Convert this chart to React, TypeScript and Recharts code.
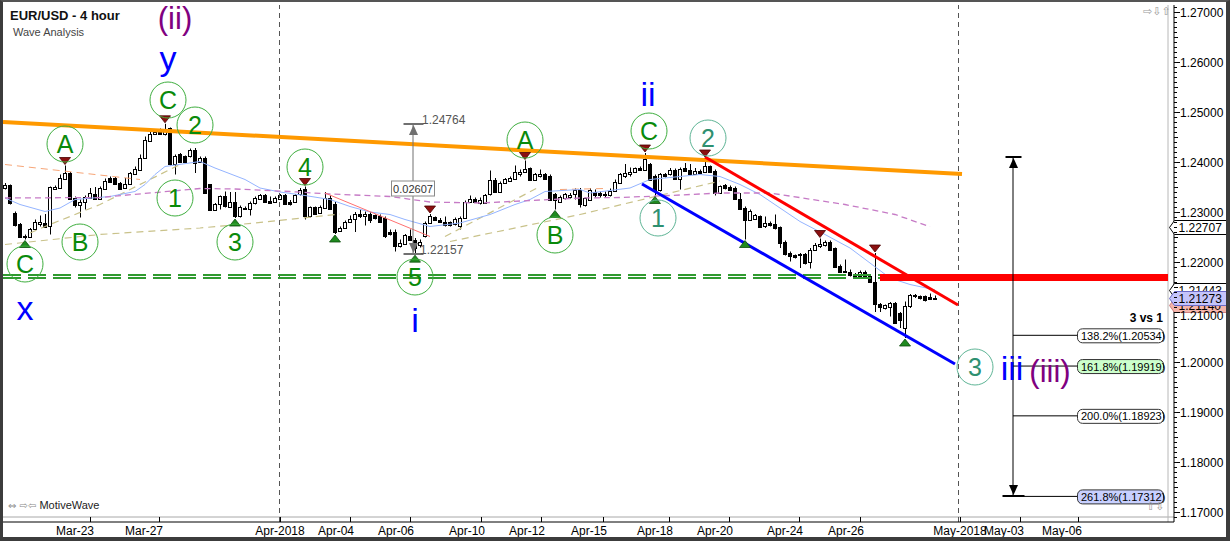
import React from 'react';
import { ComposedChart, Bar, Line, XAxis, YAxis, ReferenceLine, ReferenceDot } from 'recharts';

// ---------- candle data (EUR/USD 4h), index = candle slot ----------
const opens = [1.2348,1.2353,1.2299,1.2275,1.2249,1.2249,1.2267,1.2276,1.2278,1.2271,
1.2346,1.2348,1.2367,1.2378,1.2328,1.2313,1.2321,1.2328,1.2337,1.2327,
1.2347,1.2368,1.2368,1.2358,1.2348,1.2356,1.2377,1.2385,1.2408,1.2443,
1.2456,1.2461,1.2455,1.2468,1.2395,1.2415,1.2411,1.2411,1.2425,1.2401,
1.2408,1.2355,1.2305,1.2315,1.2331,1.2309,1.2321,1.2291,1.2308,1.2307,
1.2318,1.2327,1.2333,1.2323,1.2321,1.2327,1.2333,1.2321,1.2321,1.2335,
1.2347,1.2291,1.2309,1.2298,1.2308,1.2328,1.2316,1.2263,1.2268,1.2281,
1.2287,1.2296,1.2291,1.2295,1.2293,1.2291,1.2288,1.2261,1.2260,1.2231,
1.2236,1.2251,1.2245,1.2233,1.2251,1.2278,1.2289,1.2285,1.2281,1.2280,
1.2275,1.2271,1.2288,1.2320,1.2327,1.2318,1.2318,1.2335,1.2365,1.2341,
1.2358,1.2363,1.2367,1.2375,1.2380,1.2388,1.2365,1.2371,1.2375,1.2371,
1.2335,1.2320,1.2328,1.2329,1.2335,1.2345,1.2313,1.2325,1.2341,1.2338,
1.2336,1.2333,1.2343,1.2358,1.2371,1.2375,1.2380,1.2388,1.2385,1.2396,
1.2371,1.2345,1.2376,1.2375,1.2385,1.2367,1.2388,1.2385,1.2376,1.2383,
1.2381,1.2391,1.2383,1.2338,1.2353,1.2349,1.2348,1.2327,1.2308,1.2285,
1.2287,1.2291,1.2271,1.2278,1.2276,1.2269,1.2241,1.2218,1.2213,1.2213,
1.2215,1.2200,1.2225,1.2231,1.2233,1.2241,1.2228,1.2191,1.2183,1.2181,
1.2175,1.2171,1.2181,1.2171,1.2161,1.2116,1.2107,1.2109,1.2118,1.2098,
1.2068,1.2111,1.2131,1.2131,1.2131,1.2129,1.2126];

const highs = [1.2358,1.2355,1.2301,1.2278,1.2255,1.2268,1.2285,1.2293,1.2296,1.2351,
1.2353,1.2375,1.2393,1.2380,1.2331,1.2325,1.2333,1.2348,1.2350,1.2351,
1.2367,1.2371,1.2370,1.2360,1.2368,1.2380,1.2391,1.2415,1.2451,1.2463,
1.2465,1.2467,1.24764,1.2469,1.2415,1.2418,1.2413,1.2427,1.2428,1.2411,
1.2411,1.2356,1.2318,1.2333,1.2341,1.2340,1.2340,1.2313,1.2311,1.2321,
1.2331,1.2336,1.2336,1.2331,1.2331,1.2336,1.2336,1.2324,1.2336,1.2348,
1.2351,1.2311,1.2311,1.2313,1.2340,1.2333,1.2320,1.2271,1.2283,1.2293,
1.2300,1.2305,1.2301,1.2300,1.2295,1.2295,1.2291,1.2265,1.2265,1.2245,
1.2256,1.2265,1.2248,1.2245,1.2281,1.2296,1.2291,1.2288,1.2291,1.2281,
1.2289,1.2291,1.2323,1.2333,1.2329,1.2329,1.2336,1.2383,1.2368,1.2361,
1.2368,1.2371,1.2393,1.2385,1.2403,1.2389,1.2378,1.2385,1.2378,1.2375,
1.2338,1.2333,1.2338,1.2338,1.2347,1.2348,1.2329,1.2348,1.2345,1.2341,
1.2341,1.2347,1.2365,1.2378,1.2396,1.2389,1.2389,1.2391,1.2418,1.2398,
1.2375,1.2378,1.2378,1.2388,1.2387,1.2389,1.2398,1.2396,1.2388,1.2385,
1.2408,1.2393,1.2385,1.2353,1.2356,1.2353,1.2351,1.2338,1.2311,1.2305,
1.2296,1.2293,1.2291,1.2281,1.2295,1.2271,1.2243,1.2221,1.2215,1.2218,
1.2218,1.2228,1.2238,1.2247,1.2243,1.2243,1.2229,1.2195,1.2205,1.2185,
1.2178,1.2183,1.2183,1.2175,1.2218,1.2118,1.2115,1.2120,1.2120,1.2100,
1.2121,1.2136,1.2136,1.2133,1.2133,1.2137,1.2133];

const lows = [1.2345,1.2315,1.2271,1.2248,1.2245,1.2248,1.2265,1.2271,1.2268,1.2255,
1.2345,1.2347,1.2365,1.2325,1.2309,1.2289,1.2305,1.2327,1.2325,1.2325,
1.2345,1.2358,1.2355,1.2345,1.2347,1.2355,1.2376,1.2383,1.2407,1.2441,
1.2455,1.2455,1.2453,1.2393,1.2375,1.2400,1.2398,1.2409,1.2378,1.2398,
1.2336,1.2303,1.2303,1.2305,1.2309,1.2308,1.2288,1.2289,1.2305,1.2293,
1.2315,1.2325,1.2318,1.2318,1.2318,1.2325,1.2315,1.2313,1.2320,1.2333,
1.2285,1.2289,1.2295,1.2296,1.2307,1.2305,1.2256,1.2261,1.2267,1.2280,
1.2260,1.2288,1.2273,1.2278,1.2285,1.2278,1.2248,1.2253,1.2221,1.2229,
1.2235,1.2243,1.22157,1.2229,1.2249,1.2276,1.2283,1.2280,1.2271,1.2271,
1.2273,1.2265,1.2287,1.2318,1.2320,1.2315,1.2316,1.2333,1.2338,1.2340,
1.2356,1.2360,1.2365,1.2371,1.2378,1.2363,1.2363,1.2369,1.2365,1.2323,
1.2305,1.2318,1.2325,1.2327,1.2325,1.2309,1.2311,1.2323,1.2329,1.2329,
1.2328,1.2331,1.2341,1.2356,1.2368,1.2371,1.2378,1.2383,1.2383,1.2363,
1.2333,1.2341,1.2369,1.2373,1.2365,1.2345,1.2380,1.2373,1.2375,1.2376,
1.2380,1.2378,1.2333,1.2336,1.2345,1.2343,1.2325,1.2305,1.2245,1.2283,
1.2285,1.2268,1.2268,1.2271,1.2265,1.2228,1.2213,1.2201,1.2207,1.2188,
1.2195,1.2187,1.2223,1.2228,1.2231,1.2223,1.2188,1.2178,1.2178,1.2171,
1.2167,1.2168,1.2167,1.2158,1.2100,1.2100,1.2105,1.2091,1.2076,1.2068,
1.2048,1.2108,1.2128,1.2125,1.2121,1.2125,1.2125];

const closes = [1.2353,1.2318,1.2273,1.2249,1.2251,1.2267,1.2281,1.2281,1.2269,1.2350,
1.2350,1.2368,1.2378,1.2327,1.2313,1.2321,1.2329,1.2338,1.2327,1.2348,
1.2363,1.2360,1.2356,1.2347,1.2357,1.2378,1.2387,1.2409,1.2445,1.2456,
1.2461,1.2456,1.2463,1.2395,1.2411,1.2401,1.2400,1.2425,1.2398,1.2408,
1.2338,1.2305,1.2316,1.2331,1.2311,1.2321,1.2291,1.2309,1.2307,1.2318,
1.2328,1.2333,1.2321,1.2319,1.2328,1.2333,1.2316,1.2315,1.2333,1.2345,
1.2291,1.2309,1.2296,1.2309,1.2328,1.2307,1.2261,1.2268,1.2281,1.2287,
1.2296,1.2291,1.2296,1.2285,1.2288,1.2281,1.2251,1.2256,1.2231,1.2238,
1.2253,1.2245,1.2228,1.2241,1.2278,1.2291,1.2285,1.2281,1.2273,1.2273,
1.2287,1.2288,1.2320,1.2327,1.2321,1.2325,1.2333,1.2365,1.2341,1.2358,
1.2367,1.2368,1.2380,1.2380,1.2387,1.2365,1.2375,1.2376,1.2367,1.2325,
1.2325,1.2329,1.2336,1.2333,1.2345,1.2315,1.2328,1.2345,1.2333,1.2333,
1.2333,1.2343,1.2361,1.2375,1.2378,1.2381,1.2388,1.2385,1.2407,1.2365,
1.2345,1.2376,1.2371,1.2385,1.2367,1.2387,1.2383,1.2375,1.2383,1.2378,
1.2391,1.2381,1.2338,1.2351,1.2348,1.2345,1.2327,1.2307,1.2285,1.2303,
1.2293,1.2269,1.2278,1.2273,1.2268,1.2238,1.2216,1.2211,1.2209,1.2216,
1.2198,1.2225,1.2233,1.2236,1.2241,1.2225,1.2189,1.2180,1.2180,1.2173,
1.2169,1.2181,1.2169,1.2160,1.2115,1.2109,1.2113,1.2118,1.2078,1.2085,
1.2111,1.2133,1.2133,1.2128,1.2125,1.2127,1.21273];

// ---------- moving averages ([candle index, value]) ----------
const maPurple = [[0,1.2328],[19,1.2329],[39,1.2347],[46,1.2346],[57,1.2341],[65,1.2336],[77,1.2331],[85,1.2320],[95,1.2318],[115,1.2328],[123,1.2329],[133,1.2333],[143,1.2338],[153,1.2338],[168,1.2315],[178,1.2295],[185,1.22707]];
const maBlue = [[0,1.2328],[3,1.2315],[8,1.2301],[11,1.2308],[14,1.2325],[21,1.2331],[26,1.2341],[28,1.2355],[30,1.2375],[32,1.2391],[39,1.2401],[42,1.2388],[48,1.2365],[51,1.2348],[55,1.2340],[60,1.2333],[65,1.2325],[69,1.2311],[73,1.2300],[77,1.2295],[80,1.2285],[85,1.2271],[91,1.2278],[97,1.2295],[102,1.2315],[105,1.2325],[108,1.2341],[115,1.2345],[117,1.2338],[125,1.2348],[129,1.2365],[135,1.2371],[139,1.2375],[143,1.2371],[147,1.2355],[151,1.2335],[155,1.2308],[159,1.2281],[164,1.2255],[169,1.2228],[173,1.2198],[177,1.2168],[181,1.2155],[186,1.21443]];
const maTanA = [[0,1.2235],[19,1.2255],[39,1.2268],[50,1.2278],[67,1.2296]];
const maTanB = [[89,1.2241],[115,1.2295],[143,1.2362]];
const maTanC = [[5,1.2258],[9,1.2275],[19,1.2315],[29,1.2365],[35,1.2395]];
const maTanD = [[88,1.2251],[107,1.2351]];
const maSalmonA = [[0,1.2395],[27,1.2365]];
const maSalmonB = [[111,1.2345],[120,1.2347]];

// ---------- axes ----------
const xTickIdx = [17, 30.8, 55, 69, 81, 95.2, 107.2, 119.6, 132.8, 144.8, 158.8, 171, 191, 203, 214.6];
const xTickLabels = ['Mar-23','Mar-27','Apr-2018','Apr-04','Apr-06','Apr-10','Apr-12','Apr-15','Apr-18','Apr-20','Apr-24','Apr-26','May-2018','May-03','May-06'];
const yMajorTicks = [1.18, 1.19, 1.20, 1.21, 1.22, 1.23, 1.24, 1.25, 1.26, 1.27];
const monthLines = [54.9, 190.7];
const plotBorderBottom = 1.169;
const plotBorderRight = 232.6;

// ---------- trend lines ----------
const orangeLine = [[-0.4, 1.2480], [191.4, 1.2376]];
const redLine = [[140, 1.2410], [190.6, 1.2114]];
const blueLine = [[127.4, 1.2356], [190, 1.1996]];
const thinRedLine = [[64, 1.2338], [85, 1.2251]];
const greenLevels = [1.2174, 1.2168];
const greenRange = [-0.4, 175];
const redLevel = 1.2169;
const redLevelRange = [175, 232.6];

// ---------- wave labels ----------
const circleLabels = [
  { t: 'C', i: 4, p: 1.2196, deg: 'minor' },
  { t: 'A', i: 12, p: 1.2436, deg: 'minor' },
  { t: 'B', i: 15, p: 1.2240, deg: 'minor' },
  { t: 'C', i: 32.6, p: 1.2524, deg: 'minor' },
  { t: '2', i: 38, p: 1.2474, deg: 'minor' },
  { t: '1', i: 34, p: 1.2328, deg: 'minor' },
  { t: '3', i: 46, p: 1.2240, deg: 'minor' },
  { t: '4', i: 60, p: 1.2390, deg: 'minor' },
  { t: '5', i: 82, p: 1.2170, deg: 'minor' },
  { t: 'A', i: 104, p: 1.2444, deg: 'minor' },
  { t: 'B', i: 110, p: 1.2254, deg: 'minor' },
  { t: 'C', i: 128.8, p: 1.2462, deg: 'minor' },
  { t: '1', i: 130.6, p: 1.2288, deg: 'minute' },
  { t: '2', i: 140.6, p: 1.2448, deg: 'minute' },
  { t: '3', i: 194, p: 1.1990, deg: 'minute' },
];
const textLabels = [
  { t: '(ii)', i: 34, p: 1.2666, deg: 'intermediate' },
  { t: 'y', i: 32.6, p: 1.2584, deg: 'minor' },
  { t: 'x', i: 4, p: 1.2084, deg: 'minor' },
  { t: 'i', i: 82, p: 1.2060, deg: 'minor' },
  { t: 'ii', i: 128.6, p: 1.2512, deg: 'minor' },
  { t: 'iii', i: 201.4, p: 1.1964, deg: 'minor' },
  { t: '(iii)', i: 209, p: 1.1960, deg: 'intermediate' },
];
const highMarks = [12, 32, 60, 85, 104, 128, 140, 163, 174];
const lowMarks = [4, 46, 66, 82, 110, 130, 148, 180];

// ---------- fibonacci projection ----------
const fibX = 201.6;
const fibLabelX = 214.4;
const fibTop = 1.2410;
const fibLevels = [1.20534, 1.19919, 1.18923, 1.17312];
const fibTexts = ['138.2%(1.20534)', '161.8%(1.19919)', '200.0%(1.18923)', '261.8%(1.17312)'];
const fibTitle = '3 vs 1';
const fibTitlePos = { i: 231.6, p: 1.2080 };

// ---------- measure tool ----------
const measureX = 81.6;
const measureTop = 1.24764;
const measureBottom = 1.22157;
const measureText = '0.02607';
const measureBoxP = 1.2347;

// ---------- price tags on the right axis ----------
const priceTags = [
  { v: 1.22707, kind: 'plain' },
  { v: 1.21443, kind: 'plain' },
  { v: 1.2114, kind: 'red' },
  { v: 1.21273, kind: 'last' },
];
const tagX = 232.8;

// ---------- build table ----------
const table: any[] = opens.map((o, i) => ({
  i, open: o, high: highs[i], low: lows[i], close: closes[i], range: [lows[i], highs[i]],
}));
function addSeries(key: string, pts: number[][]) {
  pts.forEach(([idx, v]) => { table[idx][key] = v; });
}
addSeries('maPurple', maPurple);
addSeries('maBlue', maBlue);
addSeries('maTanA', maTanA);
addSeries('maTanB', maTanB);
addSeries('maTanC', maTanC);
addSeries('maTanD', maTanD);
addSeries('maSalmonA', maSalmonA);
addSeries('maSalmonB', maSalmonB);

const yAllTicks: number[] = [];
for (let k = 1169; k <= 1271; k++) yAllTicks.push(k / 1000);
const tagValues = priceTags.map((t) => t.v);

const FONT = '"Liberation Sans", Arial, Helvetica, sans-serif';

const Candle = (props: any) => {
  const { x, y, width, height, payload } = props;
  if (x == null || y == null || !payload) return null;
  const top = Math.min(y, y + height);
  const bot = Math.max(y, y + height);
  const { open, close, high, low } = payload;
  const span = high - low || 1e-9;
  const py = (v: number) => top + ((high - v) / span) * (bot - top);
  const cx = Math.round(x + width / 2);
  const up = close >= open;
  const bt = Math.round(py(Math.max(open, close)));
  const bb = Math.round(py(Math.min(open, close)));
  return (
    <g>
      <line x1={cx + 0.5} x2={cx + 0.5} y1={top} y2={bot} stroke="#000" strokeWidth={1} />
      <rect x={cx - 1.5} y={bt + 0.5} width={3} height={Math.max(bb - bt, 1)} fill={up ? '#fff' : '#000'} stroke="#000" strokeWidth={1} />
    </g>
  );
};

const XTick = (props: any) => {
  const { x, y, payload } = props;
  const idx = xTickIdx.indexOf(payload.value);
  const label = xTickLabels[idx] || '';
  const isMonth = label.indexOf('2018') >= 0;
  const xx = Math.round(x) + 0.5;
  return (
    <g>
      <line x1={xx} x2={xx} y1={y - 5} y2={y} stroke="#000" strokeWidth={1} />
      <text x={isMonth ? x : x + 4} y={y + 13} textAnchor={isMonth ? 'middle' : 'end'} fontSize={12} fontFamily={FONT} fill="#000">
        {label}
      </text>
    </g>
  );
};

const YTick = (props: any) => {
  const { x, y, payload } = props;
  const v = payload.value;
  const isMajor = Math.abs(v * 100 - Math.round(v * 100)) < 1e-6;
  const isHalf = Math.abs(v * 200 - Math.round(v * 200)) < 1e-6;
  const len = isMajor ? 6 : isHalf ? 4 : 3;
  const yy = Math.round(y) + 0.5;
  // a price tag covers this label in the reference (only its lower edge shows)
  const covered = tagValues.some((t) => Math.abs(t - v) < 0.0016);
  return (
    <g>
      <line x1={x} x2={x + len} y1={yy} y2={yy} stroke="#000" strokeWidth={1} />
      {isMajor ? (
        <text x={x + 6} y={y + (covered ? 8 : 4.5)} fontSize={12} fontFamily={FONT} fill="#000">{v.toFixed(5)}</text>
      ) : null}
    </g>
  );
};

const circleShape = (t: string, deg: string) => (p: any) => {
  const col = deg === 'minute' ? '#2e9070' : '#0a8a0a';
  const stroke = deg === 'minute' ? '#5fb596' : '#3fae3f';
  return (
    <g>
      <circle cx={p.cx} cy={p.cy} r={18} fill="none" stroke={stroke} strokeWidth={1} />
      <text x={p.cx} y={p.cy + 9} textAnchor="middle" fontSize={25} fontFamily={FONT} fill={col}>{t}</text>
    </g>
  );
};

const textShape = (t: string, deg: string) => (p: any) => (
  <text x={p.cx} y={p.cy} textAnchor="middle" fontSize={deg === 'intermediate' ? 31 : 34} fontFamily={FONT} fill={deg === 'intermediate' ? '#800080' : '#0000ff'}>{t}</text>
);

const downMarker = (p: any) => (
  <polygon points={`${p.cx - 5.5},${p.cy - 8} ${p.cx + 5.5},${p.cy - 8} ${p.cx},${p.cy - 1}`} fill="#8b1010" stroke="#4a0000" strokeWidth={0.8} />
);
const upMarker = (p: any) => (
  <polygon points={`${p.cx - 5.5},${p.cy + 8} ${p.cx + 5.5},${p.cy + 8} ${p.cx},${p.cy + 1}`} fill="#1f8a1f" stroke="#0b4d0b" strokeWidth={0.8} />
);

const fibFill = ['#ffffff', '#ccffcc', '#ffffff', '#c8d0ff'];
const fibBox = (t: string, k: number) => (p: any) => (
  <g>
    <rect x={p.cx + 0.5} y={p.cy - 6.5} width={86} height={14} rx={5} ry={5} fill={fibFill[k]} stroke="#333" strokeWidth={1} />
    <text x={p.cx + 4} y={p.cy + 4.5} fontSize={11} fontFamily={FONT} fill="#000">{t}</text>
  </g>
);

const capShape = (dir: 'up' | 'down', color: string, half: number) => (p: any) => {
  const cx = Math.round(p.cx) + 0.5;
  const cy = Math.round(p.cy);
  const tri = dir === 'up'
    ? `${cx - 4.5},${cy + 11} ${cx + 4.5},${cy + 11} ${cx},${cy + 1}`
    : `${cx - 4.5},${cy - 11} ${cx + 4.5},${cy - 11} ${cx},${cy - 1}`;
  return (
    <g>
      <line x1={cx - half} x2={cx + half} y1={cy} y2={cy} stroke={color} strokeWidth={2} />
      <polygon points={tri} fill={color} />
    </g>
  );
};

const measureBox = (p: any) => (
  <g>
    <rect x={p.cx - 21.5} y={p.cy - 7.5} width={43} height={15} fill="#fff" stroke="#8a8a8a" strokeWidth={1} />
    <text x={p.cx} y={p.cy + 4} textAnchor="middle" fontSize={11} fontFamily={FONT} fill="#333">{measureText}</text>
  </g>
);
const smallText = (t: string, dx: number, anchor: string, weight: string, color: string, size: number) => (p: any) => (
  <text x={p.cx + dx} y={p.cy} textAnchor={anchor as any} fontSize={size} fontWeight={weight} fontFamily={FONT} fill={color}>{t}</text>
);

const tagShape = (v: number, kind: string) => (p: any) => {
  const cx = Math.round(p.cx) + 0.5;
  const cy = Math.round(p.cy) + 0.5;
  const fill = kind === 'last' ? '#c4c4fb' : kind === 'red' ? '#f4b4aa' : '#ffffff';
  const stroke = kind === 'last' ? '#6a6ac8' : kind === 'red' ? '#d08080' : '#000';
  const pts = `${cx},${cy} ${cx + 5},${cy - 7} ${cx + 57},${cy - 7} ${cx + 57},${cy + 7} ${cx + 5},${cy + 7}`;
  return (
    <g>
      <polygon points={pts} fill={fill} stroke={stroke} strokeWidth={1} />
      <text x={cx + 9} y={cy + 4.5} fontSize={12} fontFamily={FONT} fill="#000">{v.toFixed(5)}</text>
    </g>
  );
};

export default function App() {
  return (
    <div style={{ position: 'absolute', left: 0, top: 0, width: 1230, height: 541, background: '#fff', overflow: 'hidden' }}>
      <ComposedChart width={1230} height={541} data={table} margin={{ top: 5, right: 0, bottom: 0, left: 3 }}>
        <XAxis dataKey="i" type="number" domain={[-0.4, 233.8]} allowDataOverflow ticks={xTickIdx} interval={0}
          tick={(p: any) => <XTick {...p} />} tickLine={false} tickSize={0} tickMargin={0} height={19}
          axisLine={{ stroke: '#000' }} />
        <YAxis type="number" orientation="right" domain={[1.168, 1.2714]} allowDataOverflow ticks={yAllTicks} interval={0}
          tick={(p: any) => <YTick {...p} />} tickLine={false} tickSize={0} tickMargin={0} width={56}
          axisLine={{ stroke: '#000' }} />

        <ReferenceLine y={plotBorderBottom} stroke="#a8a8a8" strokeWidth={1} ifOverflow="visible" />
        <ReferenceLine x={plotBorderRight} stroke="#b8b8b8" strokeWidth={1} ifOverflow="visible" />
        {monthLines.map((m, k) => (
          <ReferenceLine key={'m' + k} x={m} stroke="#555" strokeDasharray="5 4" ifOverflow="visible" />
        ))}

        <Bar dataKey="range" barSize={5} shape={(p: any) => <Candle {...p} />} isAnimationActive={false} />

        <Line dataKey="maSalmonA" stroke="#f7a577" strokeWidth={1} strokeDasharray="7 5" dot={false} connectNulls isAnimationActive={false} />
        <Line dataKey="maSalmonB" stroke="#f7a577" strokeWidth={1} strokeDasharray="7 5" dot={false} connectNulls isAnimationActive={false} />
        <Line dataKey="maTanA" stroke="#c9c28a" strokeWidth={1.2} strokeDasharray="7 5" dot={false} connectNulls isAnimationActive={false} />
        <Line dataKey="maTanB" stroke="#c9c28a" strokeWidth={1.2} strokeDasharray="7 5" dot={false} connectNulls isAnimationActive={false} />
        <Line dataKey="maTanC" stroke="#c9c28a" strokeWidth={1.2} strokeDasharray="7 5" dot={false} connectNulls isAnimationActive={false} />
        <Line dataKey="maTanD" stroke="#c9c28a" strokeWidth={1.2} strokeDasharray="7 5" dot={false} connectNulls isAnimationActive={false} />
        <Line dataKey="maBlue" stroke="#94b4ff" strokeWidth={1} dot={false} connectNulls isAnimationActive={false} />
        <Line dataKey="maPurple" stroke="#c67bc6" strokeWidth={1.3} strokeDasharray="6 4" dot={false} connectNulls isAnimationActive={false} />

        {greenLevels.map((g, k) => (
          <ReferenceLine key={'g' + k} segment={[{ x: greenRange[0], y: g }, { x: greenRange[1], y: g }]}
            stroke="#2f9a2f" strokeWidth={2} strokeDasharray="18 7" ifOverflow="visible" />
        ))}
        <ReferenceLine segment={[{ x: thinRedLine[0][0], y: thinRedLine[0][1] }, { x: thinRedLine[1][0], y: thinRedLine[1][1] }]}
          stroke="#ff7070" strokeWidth={1} ifOverflow="visible" />
        <ReferenceLine segment={[{ x: orangeLine[0][0], y: orangeLine[0][1] }, { x: orangeLine[1][0], y: orangeLine[1][1] }]}
          stroke="#ff9900" strokeWidth={4} ifOverflow="visible" />
        <ReferenceLine segment={[{ x: redLine[0][0], y: redLine[0][1] }, { x: redLine[1][0], y: redLine[1][1] }]}
          stroke="#ff0000" strokeWidth={3} ifOverflow="visible" />
        <ReferenceLine segment={[{ x: blueLine[0][0], y: blueLine[0][1] }, { x: blueLine[1][0], y: blueLine[1][1] }]}
          stroke="#0000ff" strokeWidth={3} ifOverflow="visible" />
        <ReferenceLine segment={[{ x: redLevelRange[0], y: redLevel }, { x: redLevelRange[1], y: redLevel }]}
          stroke="#ff0000" strokeWidth={7} ifOverflow="visible" />

        {/* fibonacci projection */}
        <ReferenceLine segment={[{ x: fibX, y: fibTop }, { x: fibX, y: fibLevels[3] }]} stroke="#000" strokeWidth={1} ifOverflow="visible" />
        {fibLevels.map((lv, k) => (
          <ReferenceLine key={'fl' + k} segment={[{ x: fibX, y: lv }, { x: fibLabelX, y: lv }]} stroke="#000" strokeWidth={1} ifOverflow="visible" />
        ))}
        {fibLevels.map((lv, k) => (
          <ReferenceDot key={'fb' + k} x={fibLabelX} y={lv} r={0} ifOverflow="visible" shape={fibBox(fibTexts[k], k)} />
        ))}
        <ReferenceDot x={fibX} y={fibTop} r={0} ifOverflow="visible" shape={capShape('up', '#000', 8)} />
        <ReferenceDot x={fibX} y={fibLevels[3]} r={0} ifOverflow="visible" shape={capShape('down', '#000', 11)} />
        <ReferenceDot x={fibTitlePos.i} y={fibTitlePos.p} r={0} ifOverflow="visible" shape={smallText(fibTitle, 0, 'end', 'bold', '#000', 12)} />

        {/* measure tool */}
        <ReferenceLine segment={[{ x: measureX, y: measureTop }, { x: measureX, y: measureBottom }]} stroke="#707070" strokeWidth={1} ifOverflow="visible" />
        <ReferenceDot x={measureX} y={measureTop} r={0} ifOverflow="visible" shape={capShape('up', '#707070', 10)} />
        <ReferenceDot x={measureX} y={measureBottom} r={0} ifOverflow="visible" shape={capShape('down', '#707070', 10)} />
        <ReferenceDot x={measureX} y={measureBoxP} r={0} ifOverflow="visible" shape={measureBox} />
        <ReferenceDot x={measureX} y={measureTop} r={0} ifOverflow="visible" shape={smallText(measureTop.toFixed(5), 9, 'start', 'normal', '#555', 12)} />
        <ReferenceDot x={measureX} y={measureBottom} r={0} ifOverflow="visible" shape={smallText(measureBottom.toFixed(5), 7, 'start', 'normal', '#555', 12)} />

        {/* pivots */}
        {highMarks.map((idx) => (
          <ReferenceDot key={'h' + idx} x={idx} y={highs[idx]} r={0} ifOverflow="visible" shape={downMarker} />
        ))}
        {lowMarks.map((idx) => (
          <ReferenceDot key={'l' + idx} x={idx} y={lows[idx]} r={0} ifOverflow="visible" shape={upMarker} />
        ))}

        {circleLabels.map((c, k) => (
          <ReferenceDot key={'c' + k} x={c.i} y={c.p} r={0} ifOverflow="visible" shape={circleShape(c.t, c.deg)} />
        ))}
        {textLabels.map((c, k) => (
          <ReferenceDot key={'t' + k} x={c.i} y={c.p} r={0} ifOverflow="visible" shape={textShape(c.t, c.deg)} />
        ))}

        {priceTags.map((tg, k) => (
          <ReferenceDot key={'pt' + k} x={tagX} y={tg.v} r={0} ifOverflow="visible" shape={tagShape(tg.v, tg.kind)} />
        ))}
      </ComposedChart>

      <div style={{ position: 'absolute', left: 10, top: 8, fontFamily: FONT, fontSize: 13, fontWeight: 'bold', color: '#111' }}>EUR/USD - 4 hour</div>
      <div style={{ position: 'absolute', left: 13, top: 26, fontFamily: FONT, fontSize: 11, color: '#444' }}>Wave Analysis</div>
      <div style={{ position: 'absolute', left: 8, top: 499, fontFamily: FONT, fontSize: 11, color: '#222' }}>
        <span style={{ color: '#888', fontFamily: '"DejaVu Sans", sans-serif', fontSize: 10 }}>⇔ ⇨⇦</span> MotiveWave
      </div>
      <div style={{ position: 'absolute', left: 1143, top: 5, fontFamily: '"DejaVu Sans", sans-serif', fontSize: 11, color: '#999' }}>⇨⇩⇧</div>
      <div style={{ position: 'absolute', left: 1146, top: 500, fontFamily: '"DejaVu Sans", sans-serif', fontSize: 11, color: '#999' }}>⇧⇩</div>
      <div style={{ position: 'absolute', left: 0, top: 0, width: 1230, height: 541, boxSizing: 'border-box',
        borderLeft: '3px solid #3c3c3c', borderTop: '2px solid #555', borderRight: '4px solid #3c3c3c', borderBottom: '4px solid #3c3c3c', pointerEvents: 'none' }} />
    </div>
  );
}
